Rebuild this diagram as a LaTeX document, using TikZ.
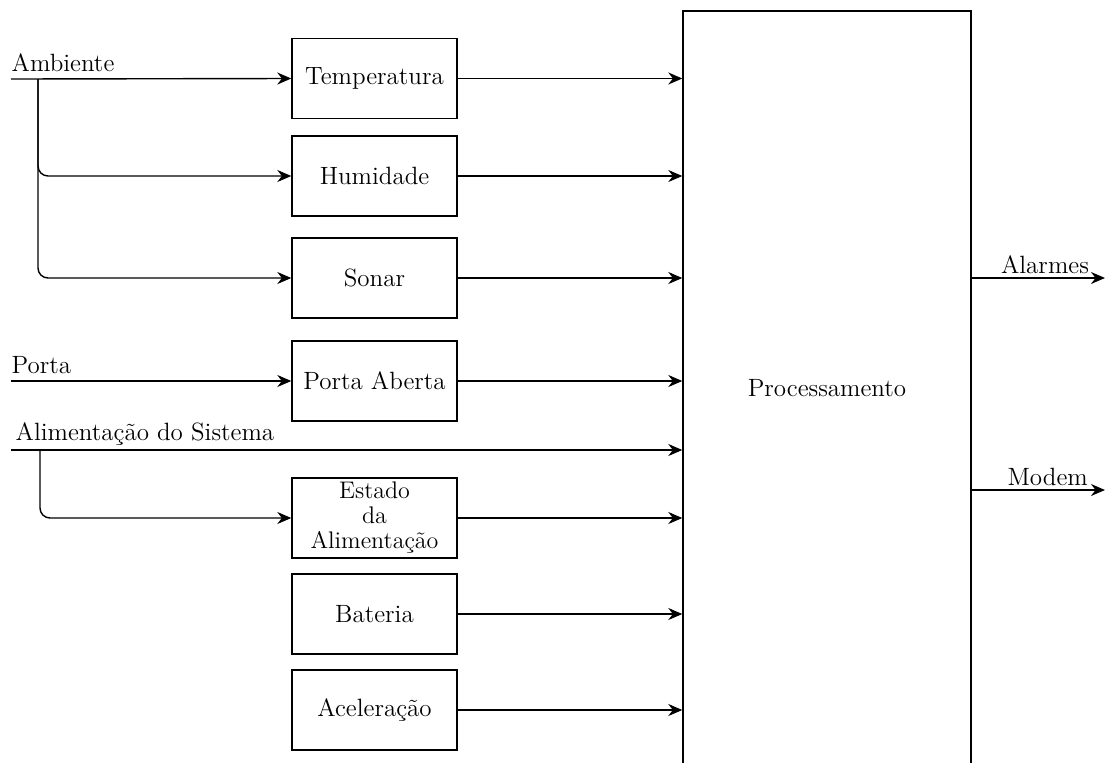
\documentclass[tikz,border=0pt]{standalone}
\usepackage{tikz}
\usetikzlibrary{arrows.meta,positioning,calc}

\begin{document}
\begin{tikzpicture}[x=0.5pt,y=-0.5pt,>={Stealth[length=7pt,width=6pt]},line width=0.7pt,
  font=\fontsize{12.5}{14}\selectfont,
  blk/.style={draw,minimum width=82.5pt,minimum height=40pt,inner sep=0pt,align=center},
  lbl/.style={anchor=base west,inner sep=0pt,yshift=4pt}]
  \useasboundingbox (0,0) rectangle (1105,762);
  \node[draw,minimum width=144pt,minimum height=377pt] (proc) at (827,388) {Processamento};
  \foreach \n/\t/\y in {temp/Temperatura/78.5,hum/Humidade/176,sonar/Sonar/278,porta/Porta Aberta/381,bat/Bateria/614,acel/Aceleração/710}{
    \node[blk] (\n) at (374.5,\y) {\t};
  }
  \node[blk,font=\fontsize{12}{12.5}\selectfont] (est) at (374.5,518) {Estado\\da\\Alimentação};
  \foreach \n in {temp,hum,sonar,porta,est,bat,acel}{\draw[->] (\n.east) -- (\n.east -| proc.west);}
  % entradas
  \coordinate (ambIn) at (11,79);
  \coordinate (ambSplit) at (38,79);
  \coordinate (portaIn) at (11,381);
  \coordinate (alimIn) at (11,450);
  \coordinate (alimSplit) at (40,450);
  \draw[->] (ambIn) -- (temp.west);
  \draw[->,rounded corners=5pt] (ambSplit) |- (hum.west);
  \draw[->,rounded corners=5pt] (ambSplit) |- (sonar.west);
  \draw[->] (portaIn) -- (porta.west);
  \draw[->] (alimIn) -- (alimIn -| proc.west);
  \draw[->,rounded corners=5pt] (alimSplit) |- (est.west);
  \node[lbl] (ambTxt) at (ambIn) {Ambiente};
  \node[lbl] (portaTxt) at (portaIn) {Porta};
  \node[lbl,xshift=2pt,yshift=1pt] (alimTxt) at (alimIn) {Alimentação do Sistema};
  % saidas
  \coordinate (alarmOut) at (1105,278);
  \coordinate (modemOut) at (1105,490);
  \draw[->] (proc.east |- alarmOut) -- node[above,pos=0.55,inner sep=2pt] (alarmTxt) {Alarmes} (alarmOut);
  \draw[->] (proc.east |- modemOut) -- node[above,pos=0.57,inner sep=2pt] (modemTxt) {Modem} (modemOut);
\end{tikzpicture}
\end{document}
